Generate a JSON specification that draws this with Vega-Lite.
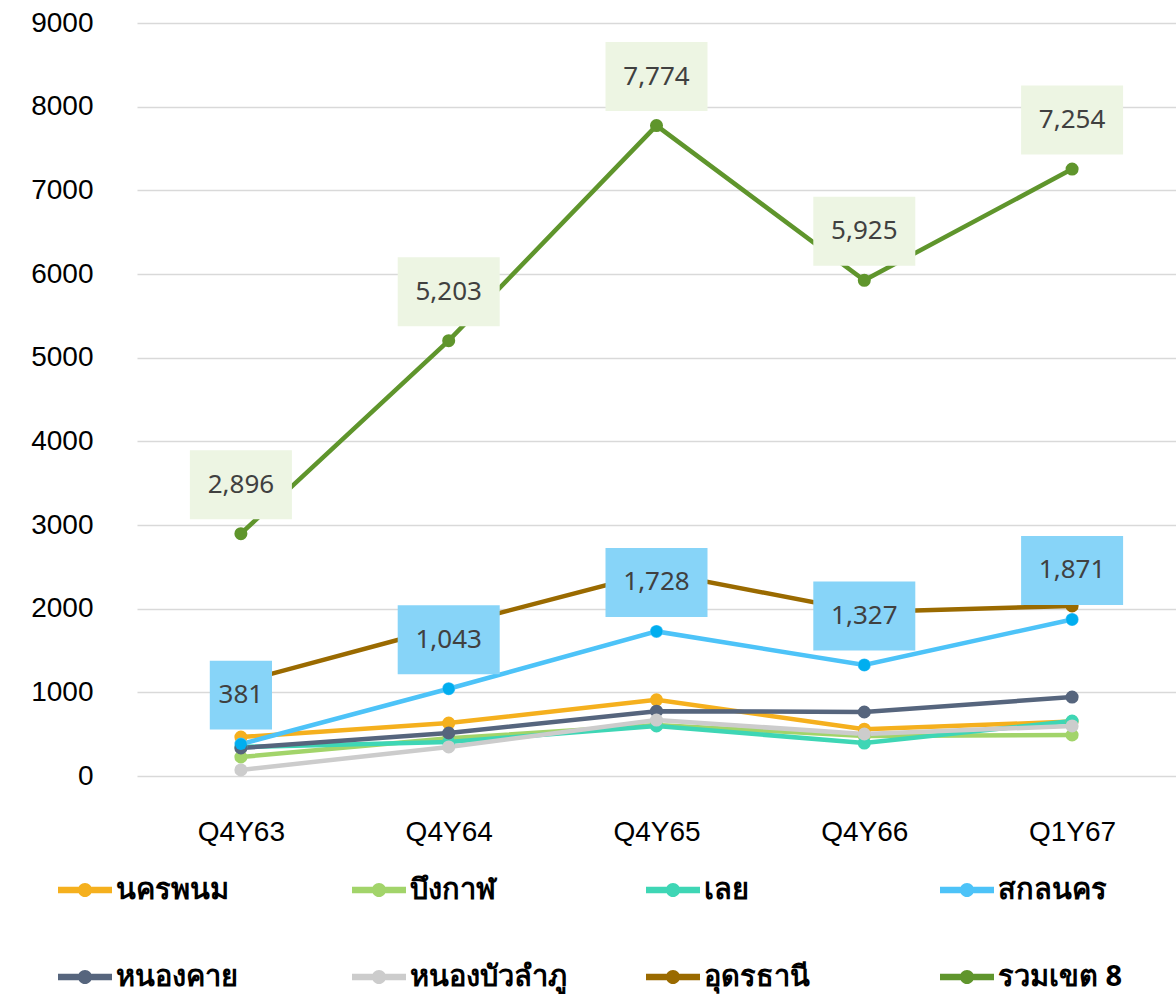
{
  "$schema": "https://vega.github.io/schema/vega-lite/v6.json",
  "autosize": "none",
  "width": 1039,
  "height": 753,
  "padding": {"left": 137, "top": 23, "right": 0, "bottom": 219},
  "background": "white",
  "config": {
    "view": {"stroke": null},
    "font": "Liberation Sans",
    "axis": {"labelFont": "Liberation Sans", "labelColor": "#000000", "labelFontSize": 28, "labelFontWeight": "normal"}
  },
  "data": {
    "values": [
      {"q": "Q4Y63", "series": "นครพนม", "v": 466},
      {"q": "Q4Y64", "series": "นครพนม", "v": 633},
      {"q": "Q4Y65", "series": "นครพนม", "v": 910},
      {"q": "Q4Y66", "series": "นครพนม", "v": 560},
      {"q": "Q1Y67", "series": "นครพนม", "v": 650},
      {"q": "Q4Y63", "series": "บึงกาฬ", "v": 227},
      {"q": "Q4Y64", "series": "บึงกาฬ", "v": 450},
      {"q": "Q4Y65", "series": "บึงกาฬ", "v": 610},
      {"q": "Q4Y66", "series": "บึงกาฬ", "v": 478},
      {"q": "Q1Y67", "series": "บึงกาฬ", "v": 490},
      {"q": "Q4Y63", "series": "เลย", "v": 347},
      {"q": "Q4Y64", "series": "เลย", "v": 406},
      {"q": "Q4Y65", "series": "เลย", "v": 598},
      {"q": "Q4Y66", "series": "เลย", "v": 394},
      {"q": "Q1Y67", "series": "เลย", "v": 657},
      {"q": "Q4Y63", "series": "สกลนคร", "v": 381},
      {"q": "Q4Y64", "series": "สกลนคร", "v": 1043},
      {"q": "Q4Y65", "series": "สกลนคร", "v": 1728},
      {"q": "Q4Y66", "series": "สกลนคร", "v": 1327},
      {"q": "Q1Y67", "series": "สกลนคร", "v": 1871},
      {"q": "Q4Y63", "series": "หนองคาย", "v": 335},
      {"q": "Q4Y64", "series": "หนองคาย", "v": 514},
      {"q": "Q4Y65", "series": "หนองคาย", "v": 775},
      {"q": "Q4Y66", "series": "หนองคาย", "v": 765},
      {"q": "Q1Y67", "series": "หนองคาย", "v": 944},
      {"q": "Q4Y63", "series": "หนองบัวลำภู", "v": 72},
      {"q": "Q4Y64", "series": "หนองบัวลำภู", "v": 347},
      {"q": "Q4Y65", "series": "หนองบัวลำภู", "v": 669},
      {"q": "Q4Y66", "series": "หนองบัวลำภู", "v": 502},
      {"q": "Q1Y67", "series": "หนองบัวลำภู", "v": 598},
      {"q": "Q4Y63", "series": "อุดรธานี", "v": 1123},
      {"q": "Q4Y64", "series": "อุดรธานี", "v": 1790},
      {"q": "Q4Y65", "series": "อุดรธานี", "v": 2438},
      {"q": "Q4Y66", "series": "อุดรธานี", "v": 1960},
      {"q": "Q1Y67", "series": "อุดรธานี", "v": 2032},
      {"q": "Q4Y63", "series": "รวมเขต 8", "v": 2896},
      {"q": "Q4Y64", "series": "รวมเขต 8", "v": 5203},
      {"q": "Q4Y65", "series": "รวมเขต 8", "v": 7774},
      {"q": "Q4Y66", "series": "รวมเขต 8", "v": 5925},
      {"q": "Q1Y67", "series": "รวมเขต 8", "v": 7254}
    ]
  },
  "encoding": {
    "x": {
      "field": "q", "type": "ordinal", "sort": null,
      "scale": {"type": "point", "padding": 0.5},
      "axis": {"title": null, "domain": false, "ticks": false, "labelAngle": 0, "labelPadding": 56, "labelBaseline": "middle"}
    },
    "y": {
      "field": "v", "type": "quantitative",
      "scale": {"domain": [0, 9000], "nice": false},
      "axis": {"title": null, "domain": false, "ticks": false, "values": [0,1000,2000,3000,4000,5000,6000,7000,8000,9000], "labelPadding": 44, "gridColor": "#d9d9d9", "gridWidth": 1.5, "format": "d"}
    }
  },
  "layer": [
    {
      "mark": {"type": "line", "strokeWidth": 4.5},
      "encoding": {
        "color": {
          "field": "series", "type": "nominal", "sort": null,
          "scale": {
            "domain": ["นครพนม", "บึงกาฬ", "เลย", "สกลนคร", "หนองคาย", "หนองบัวลำภู", "อุดรธานี", "รวมเขต 8"],
            "range": ["#F5B01E", "#A2D46A", "#3ED6B5", "#4DC3F8", "#56657D", "#CCCCCC", "#9A6A00", "#5F952C"]
          },
          "legend": {
            "title": null, "orient": "none", "legendX": -79, "legendY": 840,
            "direction": "horizontal", "columns": 4, "gridAlign": "all",
            "columnPadding": 79, "rowPadding": 45,
            "symbolType": "M-1,-0.12L1,-0.12L1,0.12L-1,0.12Z M-0.26,0A0.26,0.26 0 1,1 0.26,0A0.26,0.26 0 1,1 -0.26,0Z",
            "symbolSize": 2916, "symbolStrokeWidth": 0, "symbolOpacity": 1,
            "labelFont": "Noto Sans", "labelFontSize": 29, "labelFontWeight": "bold", "labelColor": "#000000",
            "labelOffset": 4, "labelLimit": 300,
            "encode": {
              "symbols": {"update": {"fill": {"scale": "color", "field": "value"}, "strokeWidth": {"value": 0}, "opacity": {"value": 1}}}
            }
          }
        }
      }
    },
    {
      "mark": {"type": "point", "filled": true, "opacity": 1, "size": 170},
      "encoding": {
        "color": {"field": "series", "type": "nominal", "sort": null}
      }
    },
    {
      "transform": [{"filter": "datum.series === 'สกลนคร'"}],
      "mark": {"type": "point", "filled": true, "opacity": 1, "size": 140, "color": "#00AEEF"}
    },
    {
      "transform": [{"filter": "datum.series === 'สกลนคร' || datum.series === 'รวมเขต 8'"}],
      "mark": {"type": "point", "filled": true, "opacity": 1, "size": 10404, "yOffset": -49, "strokeWidth": 0},
      "encoding": {
        "shape": {
          "condition": {"test": "datum.v < 1000", "value": "M-0.61,-0.676L0.61,-0.676L0.61,0.676L-0.61,0.676Z"},
          "value": "M-1,-0.676L1,-0.676L1,0.676L-1,0.676Z"
        },
        "color": {
          "condition": {"test": "datum.series === 'รวมเขต 8'", "value": "#EDF5E3"},
          "value": "#87D4F8"
        }
      }
    },
    {
      "transform": [{"filter": "datum.series === 'สกลนคร' || datum.series === 'รวมเขต 8'"}],
      "mark": {"type": "text", "yOffset": -49, "fontSize": 26, "color": "#404040", "baseline": "middle", "font": "Noto Sans"},
      "encoding": {
        "text": {"field": "v", "type": "quantitative", "format": ","}
      }
    }
  ]
}
